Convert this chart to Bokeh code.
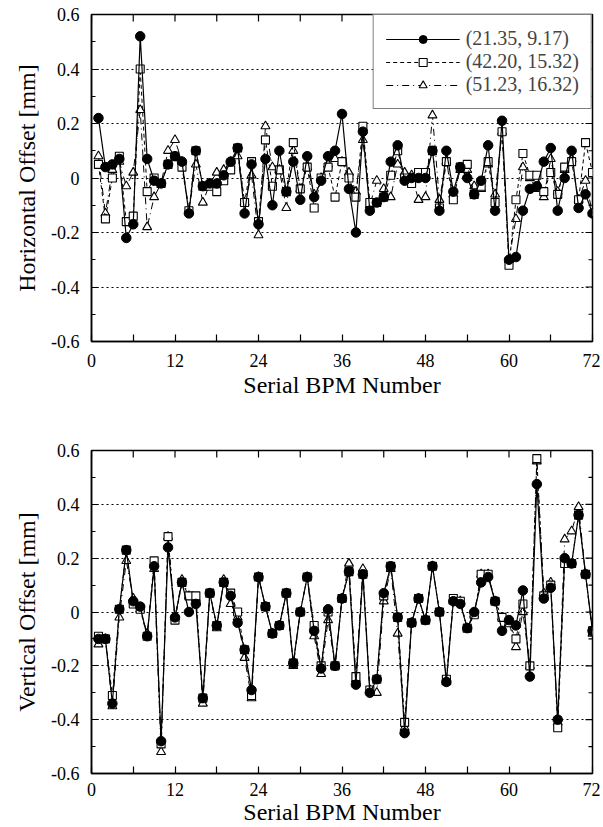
import math
from bokeh.plotting import figure
from bokeh.layouts import column
from bokeh.models import Range1d, FixedTicker
from bokeh.embed import file_html
from bokeh.resources import INLINE

bpm = list(range(1, 73))

h_1 = [0.22, 0.04, 0.05, 0.07, -0.22, -0.17, 0.52, 0.07, -0.01, -0.02, 0.05, 0.08,
       0.06, -0.13, 0.10, -0.03, -0.02, -0.02, 0.01, 0.06, 0.11, -0.13, 0.05, -0.17,
       0.07, -0.10, 0.10, -0.05, 0.06, -0.08, 0.08, -0.07, -0.01, 0.08, 0.10, 0.235,
       -0.04, -0.20, 0.17, -0.12, -0.09, -0.07, 0.06, 0.12, -0.01, 0.00, 0.00, 0.00,
       0.10, -0.12, 0.10, -0.05, 0.04, 0.00, -0.06, -0.01, 0.12, -0.12, 0.21, -0.30,
       -0.29, -0.12, -0.04, -0.03, 0.06, 0.11, -0.12, 0.00, 0.10, -0.11, -0.06, -0.13]
h_2 = [0.05, -0.15, 0.00, 0.08, -0.16, -0.14, 0.40, -0.05, 0.00, -0.02, 0.05, 0.08,
       0.04, -0.12, 0.10, -0.03, -0.03, -0.05, -0.01, 0.03, 0.11, -0.09, 0.06, -0.16,
       0.14, -0.03, 0.03, -0.05, 0.13, -0.04, 0.04, -0.11, 0.00, 0.04, -0.07, 0.06,
       0.00, -0.07, 0.19, -0.09, -0.09, -0.07, 0.01, 0.10, 0.00, -0.02, 0.02, 0.02,
       0.10, -0.11, 0.06, -0.08, 0.04, 0.05, -0.06, -0.03, 0.06, -0.09, 0.17, -0.32,
       -0.08, 0.09, 0.01, 0.01, -0.05, 0.02, -0.06, 0.04, 0.06, -0.08, 0.13, 0.02]
h_3 = [0.08, -0.13, 0.03, 0.06, -0.03, 0.02, 0.25, -0.18, -0.07, -0.02, 0.10, 0.14,
       0.06, -0.12, 0.05, -0.09, -0.02, 0.02, 0.03, 0.06, 0.08, -0.09, 0.01, -0.21,
       0.19, 0.04, 0.03, -0.11, 0.10, -0.04, 0.04, -0.06, 0.00, 0.05, 0.07, 0.06,
       0.02, -0.05, 0.14, -0.10, -0.01, -0.04, -0.07, 0.05, 0.02, 0.01, -0.08, -0.07,
       0.23, -0.08, 0.06, -0.06, 0.03, 0.03, -0.03, -0.04, 0.05, -0.06, 0.17, -0.30,
       -0.15, 0.04, 0.00, -0.04, -0.07, 0.07, -0.05, 0.03, 0.07, -0.08, -0.01, -0.13]

v_1 = [-0.10, -0.10, -0.34, 0.01, 0.23, 0.04, 0.02, -0.09, 0.17, -0.48, 0.24, -0.02,
       0.11, 0.00, 0.03, -0.32, 0.07, -0.05, 0.11, 0.06, -0.04, -0.14, -0.29, 0.13,
       0.02, -0.08, -0.05, 0.07, -0.19, 0.00, 0.13, -0.07, -0.21, 0.01, -0.20, 0.05,
       0.15, -0.27, 0.14, -0.30, -0.25, 0.07, 0.17, -0.02, -0.45, -0.04, 0.05, -0.03,
       0.17, 0.00, -0.26, 0.04, 0.03, -0.06, 0.00, 0.11, 0.13, 0.04, -0.07, -0.03,
       -0.05, 0.08, -0.24, 0.475, 0.05, 0.09, -0.40, 0.20, 0.18, 0.36, 0.14, -0.07]
v_2 = [-0.09, -0.10, -0.31, 0.01, 0.23, 0.03, 0.01, -0.09, 0.19, -0.49, 0.28, -0.03,
       0.11, 0.06, 0.06, -0.32, 0.07, -0.05, 0.11, 0.07, 0.00, -0.14, -0.31, 0.13,
       0.02, -0.08, -0.05, 0.07, -0.19, 0.00, 0.13, -0.05, -0.20, 0.00, -0.20, 0.05,
       0.15, -0.24, 0.14, -0.29, -0.25, 0.06, 0.17, -0.02, -0.41, -0.04, 0.05, -0.03,
       0.17, 0.00, -0.25, 0.05, 0.04, -0.06, -0.01, 0.14, 0.14, 0.04, -0.02, -0.04,
       -0.10, 0.03, -0.20, 0.57, 0.06, 0.10, -0.43, 0.18, 0.18, 0.36, 0.14, -0.07]
v_3 = [-0.12, -0.10, -0.35, -0.02, 0.19, 0.05, 0.01, -0.08, 0.16, -0.52, 0.28, -0.02,
       0.12, 0.06, 0.05, -0.34, 0.07, -0.06, 0.12, 0.03, -0.02, -0.17, -0.32, 0.13,
       0.02, -0.08, -0.05, 0.07, -0.20, 0.00, 0.13, -0.09, -0.23, -0.03, -0.20, 0.05,
       0.18, -0.25, 0.16, -0.29, -0.30, 0.04, 0.16, -0.08, -0.43, -0.04, 0.05, -0.03,
       0.17, 0.00, -0.26, 0.04, 0.04, -0.06, -0.01, 0.14, 0.14, 0.04, -0.02, -0.04,
       -0.13, 0.00, -0.20, 0.56, 0.07, 0.11, -0.41, 0.27, 0.30, 0.39, 0.14, -0.08]

series_labels = ["(21.35, 9.17)", "(42.20, 15.32)", "(51.23, 16.32)"]
x_ticks = [0, 6, 12, 18, 24, 30, 36, 42, 48, 54, 60, 66, 72]
x_tick_labels = {0: "0", 12: "12", 24: "24", 36: "36", 48: "48", 60: "60", 72: "72",
                 6: "", 18: "", 30: "", 42: "", 54: "", 66: ""}
y_ticks = [-0.6, -0.4, -0.2, 0.0, 0.2, 0.4, 0.6]
y_minor = [-0.5, -0.3, -0.1, 0.1, 0.3, 0.5]
y_tick_labels = {-0.6: "-0.6", -0.4: "-0.4", -0.2: "-0.2", 0: "0",
                 0.2: "0.2", 0.4: "0.4", 0.6: "0.6"}
grid_ticks = [-0.4, -0.2, 0.0, 0.2, 0.4]
X_MIN, X_MAX = 0, 72
Y_MIN, Y_MAX = -0.6, 0.6

FONT = "Liberation Serif"


def style_axis(ax, labels, minor=True):
    ax.major_tick_in = 7
    ax.major_tick_out = 0
    ax.minor_tick_in = 4 if minor else 0
    ax.minor_tick_out = 0
    ax.axis_line_color = "black"
    ax.axis_line_width = 1.5
    ax.major_tick_line_color = "black"
    ax.major_tick_line_width = 1.2
    ax.minor_tick_line_color = "black"
    ax.major_label_text_font = FONT
    ax.major_label_text_font_size = "18px"
    ax.major_label_text_color = "black"
    ax.axis_label_text_font = FONT
    ax.axis_label_text_font_size = "24px"
    ax.axis_label_text_font_style = "normal"
    ax.axis_label_text_color = "black"
    ax.major_label_standoff = 12
    ax.major_label_overrides = labels


def make_panel(ys, ylabel, legend, top_border, bottom_border, fh, xstand, xlabstand):
    p = figure(frame_width=501, frame_height=fh, output_backend="svg",
               toolbar_location=None, x_range=Range1d(X_MIN, X_MAX),
               y_range=Range1d(Y_MIN, Y_MAX),
               min_border_left=91, min_border_right=8,
               min_border_top=top_border, min_border_bottom=bottom_border)
    p.outline_line_color = "black"
    p.outline_line_width = 1.5
    p.background_fill_color = "white"
    p.border_fill_color = "white"
    p.xgrid.visible = False
    p.ygrid.ticker = FixedTicker(ticks=grid_ticks)
    p.ygrid.grid_line_color = "black"
    p.ygrid.grid_line_dash = "2 3"
    p.ygrid.grid_line_width = 1

    p.xaxis.ticker = FixedTicker(ticks=x_ticks)
    p.yaxis.ticker = FixedTicker(ticks=y_ticks, minor_ticks=y_minor)
    style_axis(p.xaxis[0], x_tick_labels, minor=False)
    style_axis(p.yaxis[0], y_tick_labels)
    p.xaxis.major_label_standoff = xstand
    p.xaxis.axis_label = "Serial BPM Number"
    p.xaxis.axis_label_standoff = xlabstand
    p.yaxis.axis_label = ylabel
    p.yaxis.axis_label_standoff = 8

    # inward ticks on the top and right edges (clipped to the frame)
    p.scatter(x_ticks, [Y_MAX] * len(x_ticks), marker="dash", angle=math.pi / 2,
              size=14, line_color="black", line_width=1.2)
    p.scatter([X_MAX] * len(y_ticks), y_ticks, marker="dash", size=14,
              line_color="black", line_width=1.2)
    p.scatter([X_MAX] * len(y_minor), y_minor, marker="dash", size=8,
              line_color="black", line_width=1.2)

    y1, y2, y3 = ys
    kw = {}
    if legend:
        kw = dict(legend_label=series_labels[2])
    p.line(bpm, y3, line_color="black", line_width=1, line_dash="7 4 1 4", **kw)
    p.scatter(bpm, y3, marker="triangle", size=9, line_color="black", line_width=1.1,
              fill_color="white", **kw)
    if legend:
        kw = dict(legend_label=series_labels[1])
    p.line(bpm, y2, line_color="black", line_width=1, line_dash="4 3", **kw)
    p.scatter(bpm, y2, marker="square", size=8, line_color="black", line_width=1.1,
              fill_color="white", **kw)
    if legend:
        kw = dict(legend_label=series_labels[0])
    p.line(bpm, y1, line_color="black", line_width=1.2, **kw)
    p.scatter(bpm, y1, marker="circle", size=9.5, line_color="black",
              fill_color="black", **kw)

    if legend:
        lg = p.legend[0]
        items = list(lg.items)
        lg.items = items[::-1]
        lg.location = "top_right"
        lg.margin = 0
        lg.padding = 12
        lg.spacing = 0
        lg.glyph_width = 74
        lg.glyph_height = 20
        lg.label_height = 20
        lg.label_standoff = 6
        lg.label_text_font = FONT
        lg.label_text_font_size = "20px"
        lg.border_line_color = "black"
        lg.border_line_width = 1.5
        lg.background_fill_color = "white"
        lg.background_fill_alpha = 1
    return p


p1 = make_panel((h_1, h_2, h_3), "Horizontal Offset [mm]", True, 14, 87, 327, 12, 2)
p2 = make_panel((v_1, v_2, v_3), "Vertical Offset [mm]", False, 22, 54, 323, 9, 0)

layout = column(p1, p2, spacing=0)
open("out.html", "w").write(file_html(layout, INLINE))
